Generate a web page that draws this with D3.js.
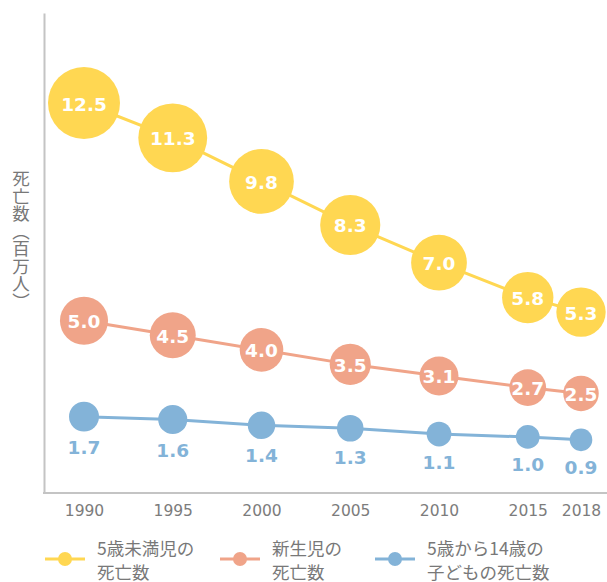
<!DOCTYPE html>
<html lang="ja">
<head>
<meta charset="utf-8">
<title>死亡数</title>
<script src="https://cdn.jsdelivr.net/npm/d3@7"></script>
<style>
  html, body { margin: 0; padding: 0; background: #fff; }
  svg { display: block; }
</style>
</head>
<body>
<script>
// data (millions)
var years = [1990, 1995, 2000, 2005, 2010, 2015, 2018];
var under5 = [12.5, 11.3, 9.8, 8.3, 7.0, 5.8, 5.3];
var newborn = [5.0, 4.5, 4.0, 3.5, 3.1, 2.7, 2.5];
var age5to14 = [1.7, 1.6, 1.4, 1.3, 1.1, 1.0, 0.9];
var seriesNames = [["5歳未満児の", "死亡数"], ["新生児の", "死亡数"], ["5歳から14歳の", "子どもの死亡数"]];
var colors = ["#ffd752", "#f0a489", "#83b3d8"];
var yTitle = "死亡数（百万人）";

var W = 607, H = 582;
var svg = d3.select("body").append("svg")
    .attr("width", W)
    .attr("height", H);

var x = d3.scaleLinear().domain([1990, 2018]).range([84, 581]);
var y = d3.scaleLinear().domain([0, 12.5]).range([466, 103]);
var r = d3.scalePow().exponent(0.44).domain([0, 12.5]).range([0, 36]);

var axisColor = "#c4c4c4";
var textGray = "#787878";

// axes (no ticks, just the lines)
var yDom = d3.scaleLinear().domain([-0.93, 15.6]).range([493, 13]);
svg.append("g")
    .attr("transform", "translate(44,0)")
    .call(d3.axisLeft(yDom).tickValues([]).tickSizeOuter(0))
    .select(".domain").attr("stroke", axisColor).attr("stroke-width", 2);

var xg = svg.append("g")
    .attr("transform", "translate(0," + yDom(-0.93) + ")")
    .call(d3.axisBottom(x).tickValues(years).tickSize(0).tickPadding(12).tickFormat(d3.format("d")));
xg.select(".domain").attr("d", "M43,0H607").attr("stroke", axisColor).attr("stroke-width", 2);
xg.selectAll("text")
    .attr("font-family", "'DejaVu Sans', Verdana, sans-serif")
    .attr("font-size", 15.5)
    .attr("fill", "#7c7c7c");

// y title (vertical writing)
svg.append("text")
    .attr("x", 21)
    .attr("y", 170)
    .attr("writing-mode", "vertical-rl")
    .attr("font-family", "'Noto Sans CJK JP', sans-serif")
    .attr("font-size", 17.5)
    .attr("fill", textGray)
    .text(yTitle);

var series = [under5, newborn, age5to14];

var line = d3.line()
    .x(function(d, i) { return x(years[i]); })
    .y(function(d) { return y(d); });

series.forEach(function(vals, s) {
  svg.append("path")
      .datum(vals)
      .attr("d", line)
      .attr("fill", "none")
      .attr("stroke", colors[s])
      .attr("stroke-width", 3);
});

series.forEach(function(vals, s) {
  var g = svg.append("g");
  g.selectAll("circle")
      .data(vals)
      .enter().append("circle")
      .attr("cx", function(d, i) { return x(years[i]); })
      .attr("cy", function(d) { return y(d); })
      .attr("r", function(d) { return r(d); })
      .attr("fill", colors[s]);

  g.selectAll("text")
      .data(vals)
      .enter().append("text")
      .attr("x", function(d, i) { return x(years[i]); })
      .attr("y", function(d) { return s < 2 ? y(d) + 1 : y(d) + r(d) + 16; })
      .attr("text-anchor", "middle")
      .attr("dominant-baseline", "central")
      .attr("font-family", "'DejaVu Sans', Verdana, sans-serif")
      .attr("font-weight", "bold")
      .attr("font-size", 18.5)
      .attr("fill", s < 2 ? "#fff" : colors[s])
      .text(function(d) { return d.toFixed(1); });
});

// legend
var legendX = [45, 220, 375];
var legend = svg.append("g");
seriesNames.forEach(function(name, s) {
  var lg = legend.append("g").attr("transform", "translate(" + legendX[s] + ",559)");
  lg.append("line")
      .attr("x1", 0).attr("x2", 40)
      .attr("y1", 0).attr("y2", 0)
      .attr("stroke", colors[s])
      .attr("stroke-width", 3);
  lg.append("circle")
      .attr("cx", 20).attr("cy", 0).attr("r", 7)
      .attr("fill", colors[s]);
  name.forEach(function(part, k) {
    lg.append("text")
        .attr("x", 52)
        .attr("y", -12 + k * 24)
        .attr("dominant-baseline", "central")
        .attr("font-family", "'Noto Sans CJK JP', sans-serif")
        .attr("font-size", 17.5)
        .attr("fill", textGray)
        .text(part);
  });
});
</script>
</body>
</html>
